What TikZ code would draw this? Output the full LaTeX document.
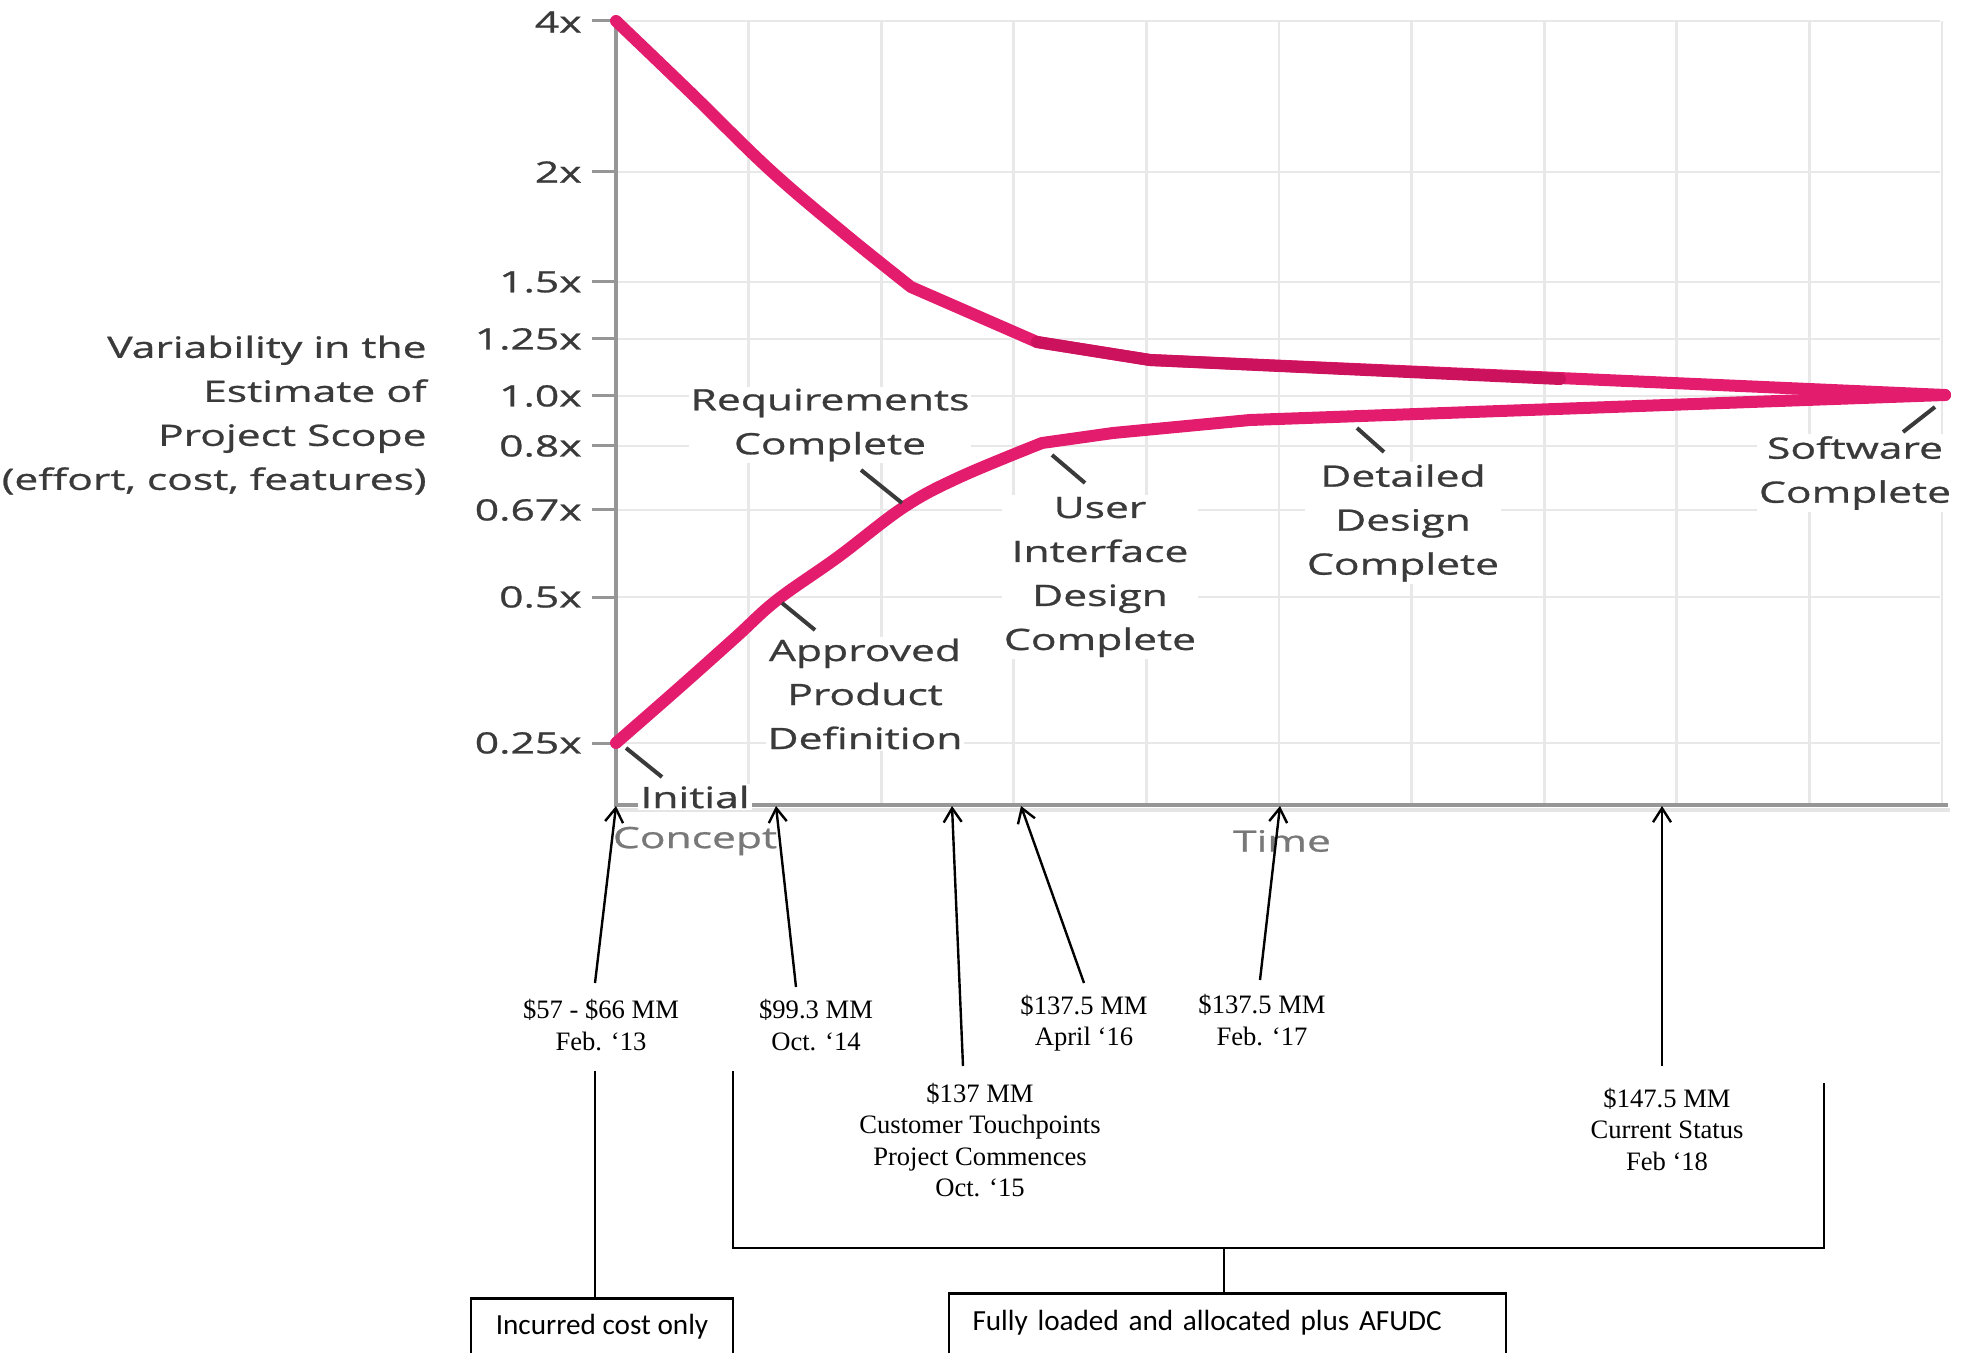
\documentclass[tikz,border=0pt]{standalone}
\usepackage{fontspec}
\setmainfont{Liberation Serif}
\newfontfamily\chartfont[FakeStretch=1.45,FakeBold=0.9]{Open Sans}
\newfontfamily\boxfont{Carlito}
\usetikzlibrary{arrows.meta}
\definecolor{curvepink}{RGB}{228,28,110}
\definecolor{curvedark}{RGB}{204,18,92}
\definecolor{labelgray}{RGB}{58,58,58}
\definecolor{fadegray}{RGB}{120,120,120}
\definecolor{gridgray}{RGB}{232,232,232}
\definecolor{axisgray}{RGB}{150,150,150}
\begin{document}
\begin{tikzpicture}[x=0.5pt,y=-0.5pt,
  gridline/.style={gridgray, line width=1.4pt},
  axisline/.style={axisgray, line width=1.8pt},
  tickline/.style={axisgray, line width=1.5pt},
  ticklabel/.style={anchor=east, inner sep=0pt, text=labelgray,
    font=\chartfont\fontsize{14.7}{22}\selectfont},
  phase/.style={align=center, inner sep=1pt, fill=white, text=labelgray,
    font=\chartfont\fontsize{14.7}{22}\selectfont},
  leader/.style={labelgray, line width=2pt},
  scopecurve/.style={curvepink, line width=6pt, line join=round, line cap=round},
  cost/.style={align=center, inner sep=3pt, font=\fontsize{13.3}{15.75}\selectfont},
  costarrow/.style={line width=1.2pt, -{Straight Barb[length=7pt,width=9pt]}},
  bracketline/.style={line width=1.4pt},
  costbox/.style={draw, line width=1.3pt, anchor=north, inner xsep=11pt,
    font=\boxfont\fontsize{14.6}{17}\selectfont}
]
\useasboundingbox (0,0) rectangle (1971,1353);

% grid
\foreach \yy in {21,172,282,339,396,446,510,597,743}
  \draw[gridline] (616,\yy) -- (1940,\yy);
\foreach \k in {1,...,10}
  \draw[gridline] (616+132.6*\k,21) -- (616+132.6*\k,805);

% axes
\draw[gray!20, line width=2pt] (616,810) -- (1950,810);
\draw[axisline] (616,21) -- (616,805) -- (1948,805);

% ticks and tick labels
\foreach \yy/\lab/\nm in {172/2x/t2,282/1.5x/t15,339/1.25x/t125,396/1.0x/t10,446/0.8x/t08,510/0.67x/t067,597/0.5x/t05,743/0.25x/t025}{
  \draw[tickline] (592,\yy) -- (616,\yy);
  \node[ticklabel] (\nm) at (582,\yy) {\lab};
}
\draw[tickline] (592,21) -- (616,21);
\node[ticklabel] (t4) at (582,22) {4x};

% y-axis title
\node[align=right, anchor=east, inner sep=0pt, text=labelgray,
  font=\chartfont\fontsize{14.7}{22}\selectfont] (ytitle) at (427,415)
  {Variability in the\\Estimate of\\Project Scope\\(effort, cost, features)};

% phase labels
\node[phase] (req) at (830,425) {Requirements\\Complete};
\node[phase] (apd) at (865,694) {Approved\\Product\\Definition};
\node[phase] (uid) at (1100,577) {User\\Interface\\Design\\Complete};
\node[phase] (ddc) at (1403,523) {Detailed\\Design\\Complete};
\node[phase] (swc) at (1855,473) {Software\\Complete};
\node[phase, text=fadegray, fill=none] (concept) at (695,841) {Concept};
\node[phase] (initial) at (695,797) {Initial};
\node[phase, text=fadegray, fill=none] (time) at (1282,841) {Time};

% curves
\draw[scopecurve] plot[smooth, tension=0.6] coordinates {(616,21) (690,92) (770,170) (845,234) (911,287)}
  -- (1037,342) -- (1150,360) -- (1945,395);
\draw[curvedark, line width=6pt, line cap=round] (1037,342) -- (1150,360) -- (1560,379);
\draw[scopecurve] plot[smooth, tension=0.6] coordinates {(616,743) (680,687) (736,637) (777,600) (838,557) (904,507) (960,477) (1042,443)}
  -- (1113,433) -- (1250,420) -- (1945,395);

% leader lines
\coordinate (reqA) at (861,470);  \coordinate (reqB) at (902,503);
\coordinate (apdA) at (815,630);  \coordinate (apdB) at (782,603);
\coordinate (uidA) at (1085,483); \coordinate (uidB) at (1052,455);
\coordinate (iniA) at (662,777);  \coordinate (iniB) at (626,748);
\coordinate (ddcA) at (1384,452); \coordinate (ddcB) at (1357,428);
\coordinate (swcA) at (1903,432); \coordinate (swcB) at (1935,407);
\foreach \a/\b in {reqA/reqB,apdA/apdB,uidA/uidB,iniA/iniB,ddcA/ddcB,swcA/swcB}
  \draw[leader] (\a) -- (\b);

% cost labels
\node[cost] (c13) at (601,1025) {\$57 - \$66 MM\\Feb. ‘13};
\node[cost] (c14) at (816,1025) {\$99.3 MM\\Oct. ‘14};
\node[cost] (c15) at (980,1140) {\$137 MM\\Customer Touchpoints\\Project Commences\\Oct. ‘15};
\node[cost] (c16) at (1084,1023) {\$137.5 MM\\April ‘16};
\node[cost] (c17) at (1262,1020) {\$137.5 MM\\Feb. ‘17};
\node[cost] (c18) at (1667,1129) {\$147.5 MM\\Current Status\\Feb ‘18};

% arrow ends: just above each label, and on the time axis
\coordinate (b13) at (595,983);  \coordinate (a13) at (616,806);
\coordinate (b14) at (796,987);  \coordinate (a14) at (776,806);
\coordinate (b15) at (963,1066); \coordinate (a15) at (952,806);
\coordinate (b16) at (1084,983); \coordinate (a16) at (1021,806);
\coordinate (b17) at (1260,980); \coordinate (a17) at (1280,806);
\coordinate (b18) at (1662,1066);\coordinate (a18) at (1662,806);
\foreach \n in {13,14,15,16,17,18}
  \draw[costarrow] (b\n) -- (a\n);

% boxes
\node[costbox, minimum width=131pt, text height=10pt, text depth=30pt, inner ysep=8pt]
  (box1) at (602,1297) {Incurred cost only};
\node[costbox, minimum width=278.5pt, text width=255pt, align=left, text height=10.5pt, text depth=30pt, inner ysep=8pt]
  (box2) at (1227.5,1292) {Fully loaded and allocated plus AFUDC};

% brackets
\coordinate (s1) at (595,1071);
\draw[bracketline] (s1) -- (s1 |- box1.north);
\coordinate (bl) at (733,1071);
\coordinate (br) at (1824,1083);
\coordinate (bh) at (1224,1248);
\draw[bracketline] (bl) |- (bh) -| (br);
\draw[bracketline] (bh) -- (bh |- box2.north);
\end{tikzpicture}
\end{document}
